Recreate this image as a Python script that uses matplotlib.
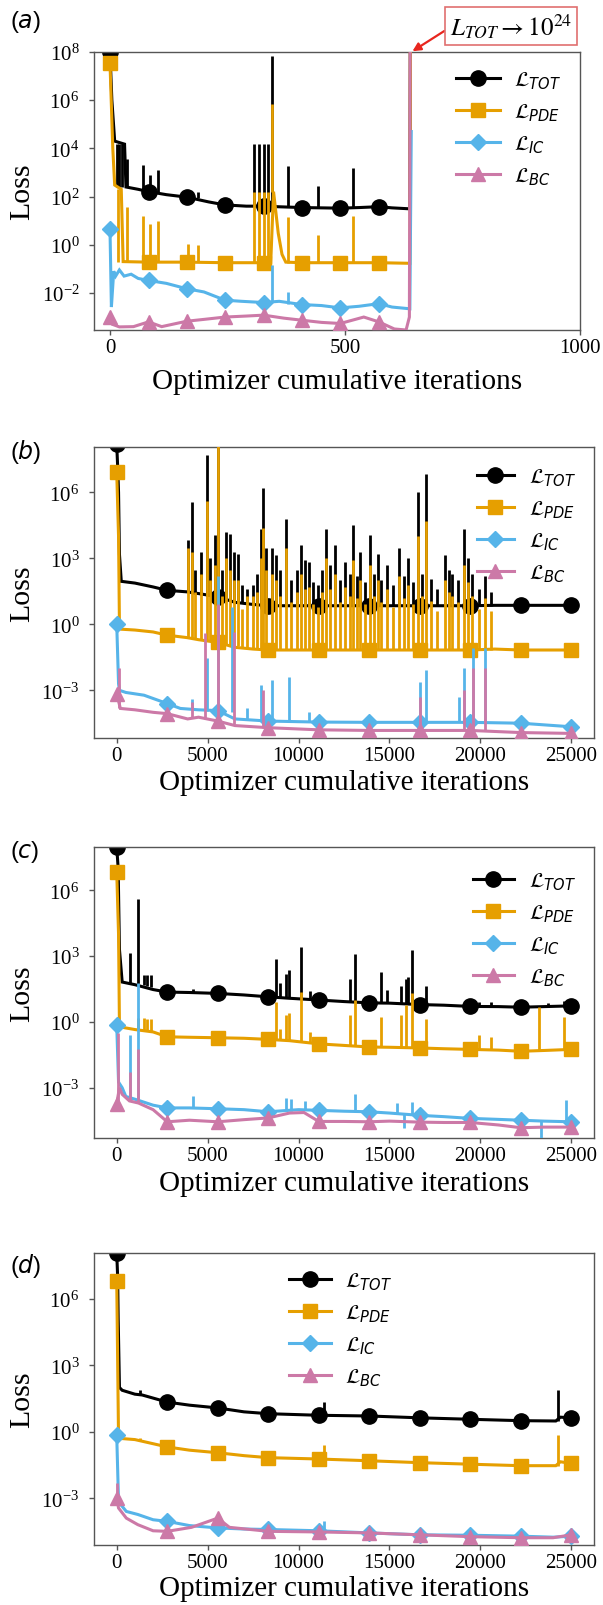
import numpy as np
import matplotlib
matplotlib.use("Agg")
import matplotlib.pyplot as plt
from matplotlib.ticker import NullLocator

plt.rcParams['font.family'] = ['Liberation Serif', 'DejaVu Serif']
plt.rcParams['mathtext.fontset'] = 'dejavusans'

# ---------------- data (x = optimizer cumulative iteration, y = loss) ----------------
SERIES = ['TOT', 'PDE', 'IC', 'BC']
LABELS = [r'$\mathcal{L}_{TOT}$', r'$\mathcal{L}_{PDE}$', r'$\mathcal{L}_{IC}$', r'$\mathcal{L}_{BC}$']

A_MARK_X = [0, 82, 163, 245, 327, 408, 490, 572]
BCD_MARK_X = [0, 2778, 5556, 8333, 11111, 13889, 16667, 19444, 22222, 25000]

# ---- panel (a) ----
A_TOT = [(0, 1.0e8), (4, 1.0e6), (10, 2.0e4), (31, 1.5e4), (34, 2.5e2), (60, 2.0e2), (82, 1.6e2),
         (120, 1.2e2), (163, 95), (210, 60), (245, 45), (290, 40), (327, 40), (355, 38), (408, 35),
         (450, 34), (490, 33), (530, 35), (572, 38), (600, 34), (638, 31), (641, 1e24)]
A_TOT_SPK = [(14, 2.5e2, 1.5e4), (20, 2.5e2, 1.5e4), (26, 2.5e2, 1.5e4), (36, 2.5e2, 3.6e3),
             (70, 2.0e2, 2.0e3), (85, 1.6e2, 8.0e2), (103, 1.5e2, 1.3e3), (188, 85, 1.5e2),
             (306, 40, 1.5e4), (316, 40, 1.5e4), (327, 40, 1.5e4), (337, 40, 1.5e4),
             (345, 40, 6.8e7), (378, 36, 1.9e3), (443, 34, 2.8e2), (516, 34, 1.6e3)]
A_PDE = [(0, 3.6e7), (6, 1.0e4), (10, 3.0e2), (24, 2.0e2), (28, 0.2), (82, 0.19), (163, 0.19),
         (245, 0.18), (300, 0.18), (327, 0.18), (342, 0.18), (348, 1.6e2), (358, 3.0), (366, 0.4),
         (374, 0.19), (408, 0.18), (490, 0.18), (572, 0.18), (638, 0.17), (641, 1e24)]
A_PDE_SPK = [(18, 0.2, 2e2), (36, 0.2, 36), (70, 0.19, 16), (85, 0.19, 7.4), (103, 0.19, 10),
             (165, 0.19, 1.1), (188, 0.19, 1.0), (306, 0.18, 1.6e2), (316, 0.18, 1.6e2),
             (327, 0.18, 1.6e2), (337, 0.18, 1.6e2), (345, 1.6e2, 6.8e5), (378, 0.18, 14),
             (443, 0.18, 2.5), (516, 0.18, 16)]
A_IC = [(0, 4.6), (3, 2.6e-3), (8, 8e-2), (12, 5e-2), (20, 9e-2), (30, 5e-2), (45, 6e-2), (60, 4e-2),
        (82, 3.3e-2), (120, 2.5e-2), (163, 1.5e-2), (200, 1.1e-2), (245, 5e-3), (280, 4.5e-3),
        (327, 4e-3), (360, 4.5e-3), (408, 3.3e-3), (450, 3e-3), (490, 2.4e-3), (530, 2.8e-3),
        (572, 3.6e-3), (600, 2.6e-3), (638, 2.2e-3), (641, 5e4)]
A_IC_SPK = [(345, 4e-3, 0.14), (378, 3.5e-3, 1.1e-2)]
A_BC = [(0, 1.0e-3), (5, 5e-4), (20, 3.9e-4), (50, 4e-4), (82, 6.3e-4), (110, 4e-4), (163, 6.7e-4),
        (200, 8e-4), (245, 1.0e-3), (290, 1.1e-3), (327, 1.2e-3), (370, 9e-4), (408, 7.4e-4),
        (450, 6e-4), (490, 5.4e-4), (540, 1.0e-3), (572, 6.3e-4), (605, 3.2e-4), (630, 2.9e-4),
        (637, 1e-3), (641, 1e24)]
A_BC_SPK = []

# ---- panel (b) ----
B_TOT = [(0, 1.5e8), (60, 1.0e7), (100, 1.0e6), (150, 1.5e3), (250, 90), (1000, 75), (2000, 50),
         (2778, 35), (3850, 30), (4500, 25), (5556, 18), (6500, 10), (7500, 8), (8333, 7),
         (11111, 7), (13889, 7), (16667, 7), (19444, 7), (20800, 7.3), (22222, 7.3), (25000, 7.3)]
B_TOT_SPK = [(3900, 30, 6.6e3), (4115, 28, 3.6e5), (4300, 25, 3e2), (4642, 22, 2e3), (4960, 20, 5e7),
             (5150, 20, 1e3), (5380, 18, 1.1e4), (5590, 16, 1.2e8), (5800, 15, 3e2), (6014, 12, 1.6e4),
             (6225, 12, 1.3e4), (6436, 11, 2e3), (6650, 10, 1.6e3), (6900, 9, 60), (7174, 8, 40),
             (7490, 8, 60), (7700, 8, 2e2), (7913, 7, 2.2e4), (8020, 7, 1.5e6), (8200, 7, 3e3),
             (8546, 7, 2.8e3), (8757, 7, 1.4e3), (9000, 7, 3e2), (9284, 7, 6e4), (9600, 7, 1e2),
             (9917, 7, 3e2), (10128, 7, 4e3), (10340, 7, 8e2), (10550, 7, 7e2), (10800, 7, 80),
             (11077, 7, 60), (11300, 7, 3e2), (11500, 7, 2.2e4), (11750, 7, 5e2), (12027, 7, 4e3),
             (12300, 7, 1e2), (12555, 7, 7e2), (12808, 7, 2e2), (12977, 7, 3.2e4), (13200, 7, 1.5e2),
             (13400, 7, 2e3), (13650, 7, 80), (13926, 7, 1.1e4), (14150, 7, 2e2), (14348, 7, 1.5e3),
             (14560, 7, 1e2), (14876, 7, 5e2), (15200, 7, 60), (15509, 7, 2.8e3), (15800, 7, 1.5e2),
             (16036, 7, 1e3), (16300, 7, 80), (16564, 7, 1e6), (16800, 7, 2e2), (16986, 7, 7e6),
             (17300, 7, 1.2e2), (17600, 7, 40), (18040, 7, 1.4e3), (18250, 7, 3e2), (18463, 7, 2e2),
             (18780, 7, 1e2), (19096, 7, 2.2e4), (19300, 7, 1e3), (19518, 7, 2e2), (19940, 7, 40),
             (20256, 7, 1.5e2), (20573, 7, 30)]
B_PDE = [(0, 8e6), (100, 1e4), (150, 0.8), (250, 0.6), (1000, 0.55), (2000, 0.45), (2778, 0.32),
         (3850, 0.25), (4500, 0.2), (5556, 0.15), (6500, 0.09), (7500, 0.075), (8333, 0.068),
         (11111, 0.068), (13889, 0.068), (16667, 0.068), (19444, 0.068), (20800, 0.075),
         (22222, 0.068), (25000, 0.068)]
B_PDE_SPK = [(3900, 0.25, 3e3), (4115, 0.25, 2e3), (4300, 0.22, 30), (4642, 0.2, 2e2), (4960, 0.2, 4e5),
             (5150, 0.18, 1e2), (5380, 0.17, 5e2), (5590, 0.15, 1.5e8), (5800, 0.14, 20), (6014, 0.12, 1e3),
             (6225, 0.11, 3e2), (6436, 0.1, 1e2), (6650, 0.1, 1e2), (6900, 0.09, 5), (7174, 0.08, 20),
             (7490, 0.08, 20), (7700, 0.08, 30), (7913, 0.07, 1e3), (8020, 0.07, 2.5e4), (8200, 0.07, 3e2),
             (8546, 0.07, 2e2), (8757, 0.07, 1e2), (9000, 0.07, 20), (9284, 0.07, 3e3), (9600, 0.07, 10),
             (9917, 0.07, 30), (10128, 0.07, 2e2), (10340, 0.07, 40), (10550, 0.07, 50), (10800, 0.07, 8),
             (11077, 0.07, 6), (11300, 0.07, 30), (11500, 0.07, 1e3), (11750, 0.07, 40), (12027, 0.07, 2e2),
             (12300, 0.07, 10), (12555, 0.07, 50), (12808, 0.07, 20), (12977, 0.07, 8e2), (13200, 0.07, 15),
             (13400, 0.07, 1e2), (13650, 0.07, 8), (13926, 0.07, 5e2), (14150, 0.07, 20), (14348, 0.07, 1e2),
             (14560, 0.07, 10), (14876, 0.07, 40), (15200, 0.07, 6), (15509, 0.07, 1.5e2), (15800, 0.07, 15),
             (16036, 0.07, 60), (16300, 0.07, 8), (16564, 0.07, 1e4), (16800, 0.07, 20), (16986, 0.07, 5e4),
             (17300, 0.07, 12), (17600, 0.07, 4), (18040, 0.07, 1e2), (18250, 0.07, 30), (18463, 0.07, 20),
             (18780, 0.07, 10), (19096, 0.07, 5e2), (19300, 0.07, 80), (19518, 0.07, 20), (19940, 0.07, 5),
             (20256, 0.07, 15), (20573, 0.07, 4)]
B_IC = [(0, 1.0), (100, 2e-3), (150, 1e-3), (500, 8e-4), (1500, 6e-4), (2778, 2.5e-4), (3500, 1.5e-4),
        (4500, 1.3e-4), (5556, 1.2e-4), (6500, 5e-5), (8333, 4e-5), (11111, 3.6e-5), (13889, 3.5e-5),
        (16667, 3.5e-5), (19444, 3.5e-5), (22222, 3.2e-5), (25000, 2.2e-5)]
B_IC_SPK = [(4115, 1.3e-4, 4e-4), (4960, 1.2e-4, 2.8e-2), (5590, 1.2e-4, 1.6e2), (6330, 1e-4, 6),
            (7174, 5e-5, 1.5e-4), (7913, 4e-5, 1.7e-3), (8546, 4e-5, 3e-3), (9495, 4e-5, 4e-3),
            (10600, 4e-5, 1e-4), (16669, 3.5e-5, 2.5e-3), (17030, 3.5e-5, 8e-3), (18800, 3.5e-5, 5e-4),
            (19096, 3.5e-5, 1e-2), (19620, 3.5e-5, 8e-2), (20256, 3.5e-5, 8e-2)]
B_BC = [(0, 7e-4), (200, 1.5e-4), (1000, 1.3e-4), (2000, 1e-4), (2778, 8.7e-5), (3900, 5e-5),
        (4500, 6e-5), (5556, 4e-5), (6500, 2.5e-5), (8333, 2e-5), (11111, 1.6e-5), (13889, 1.5e-5),
        (16667, 1.5e-5), (19444, 1.5e-5), (22222, 1.2e-5), (25000, 1.1e-5)]
B_BC_SPK = [(100, 1.5e-4, 1e-2), (4115, 6e-5, 3e-4), (4853, 5e-5, 0.4), (5590, 4e-5, 8), (6436, 3e-5, 0.45),
            (8020, 2e-5, 1e-3), (16669, 1.5e-5, 5e-4), (19096, 1.5e-5, 1e-3), (19620, 1.5e-5, 1e-2),
            (20256, 1.5e-5, 1e-2)]

# ---- panel (c) ----
C_TOT = [(0, 9.5e7), (80, 1.0e7), (105, 4.0e5), (150, 2.0e3), (300, 66), (1000, 50), (2000, 30),
         (2778, 23), (4000, 22), (5556, 20), (7000, 17), (8333, 14), (9500, 12), (11111, 10),
         (12500, 8.5), (13889, 7.4), (15000, 7.2), (16667, 6.2), (18000, 5.8), (19444, 5.1),
         (21000, 5.0), (22222, 4.7), (23500, 5.0), (25000, 5.4)]
C_TOT_SPK = [(739, 60, 1.4e3), (1160, 55, 4.2e5), (1477, 50, 1.35e2), (1690, 45, 1.35e2), (1900, 40, 1.35e2),
             (4200, 22, 33), (8757, 14, 7.8e2), (9000, 14, 60), (9284, 13, 1.5e2), (9495, 13, 2.3e2),
             (10128, 12, 2.6e3), (10656, 10, 25), (12808, 8, 95), (13082, 8, 1.3e3), (14560, 7, 1.9e2),
             (14876, 7, 30), (15614, 6.5, 45), (15930, 6.5, 95), (16036, 6.5, 1.1e2), (16247, 6.5, 1.9e3),
             (16986, 6, 45), (19940, 5, 8), (20573, 5, 8), (23700, 4.8, 7), (24580, 5, 9)]
C_PDE = [(0, 7.0e6), (100, 1.0e4), (150, 0.6), (1000, 0.45), (2000, 0.35), (2778, 0.21), (4000, 0.2),
         (5556, 0.19), (7000, 0.18), (8333, 0.16), (9500, 0.14), (11111, 0.10), (12500, 0.085),
         (13889, 0.072), (15000, 0.07), (16667, 0.065), (18000, 0.06), (19444, 0.056), (21000, 0.052),
         (22222, 0.046), (23500, 0.05), (25000, 0.056)]
C_PDE_SPK = [(1160, 0.5, 1.5), (1477, 0.45, 1.5), (1690, 0.42, 1.4), (1900, 0.4, 1.4), (8757, 0.15, 8),
             (9000, 0.15, 0.5), (9284, 0.15, 2), (9495, 0.15, 2.5), (10128, 0.13, 23), (10656, 0.12, 0.35),
             (12808, 0.09, 2), (13082, 0.09, 10), (14560, 0.08, 1.7), (15614, 0.07, 2), (15930, 0.07, 5.7),
             (16247, 0.07, 20), (16986, 0.065, 1.4), (19940, 0.055, 0.25), (20573, 0.055, 0.2),
             (23210, 0.047, 4.8), (24580, 0.05, 1.7)]
C_IC = [(0, 0.7), (100, 1.8e-3), (300, 1.0e-3), (500, 4.0e-4), (1000, 3e-4), (2000, 1.6e-4), (2778, 1.2e-4),
        (4000, 1.2e-4), (5556, 1.1e-4), (7000, 1.0e-4), (8333, 8e-5), (10000, 1.0e-4), (11111, 9.3e-5),
        (12500, 8.5e-5), (13889, 8e-5), (15000, 7e-5), (16667, 5.5e-5), (18000, 4.8e-5), (19444, 4e-5),
        (21000, 3.6e-5), (22222, 3.3e-5), (23500, 3e-5), (25000, 2.8e-5)]
C_IC_SPK = [(739, 3e-4, 0.25), (1160, 3e-4, 60), (4220, 1.3e-4, 4e-4), (9284, 9e-5, 3.5e-4),
            (9600, 9e-5, 3e-4), (10340, 1e-4, 2.5e-4), (13082, 8e-5, 5e-4), (15400, 7e-5, 2e-4),
            (15825, 6.5e-5, 1.5e-5), (16247, 6e-5, 2.2e-4), (23316, 3e-5, 4e-6), (24687, 2.8e-5, 2.7e-4)]
C_BC = [(0, 1.9e-4), (150, 1.0e-3), (300, 5e-4), (700, 2.5e-4), (1200, 2.0e-4), (2000, 1.0e-4),
        (2778, 2.8e-5), (4000, 3.3e-5), (5556, 2.8e-5), (7000, 3.5e-5), (8333, 4.2e-5), (9500, 7e-5),
        (10300, 7.4e-5), (11111, 2.9e-5), (12500, 2.9e-5), (13889, 2.8e-5), (15000, 3.0e-5),
        (16667, 2.7e-5), (18000, 2.6e-5), (19444, 2.6e-5), (21000, 2e-5), (22222, 1.5e-5),
        (23500, 1.6e-5), (25000, 1.6e-5)]
C_BC_SPK = [(50, 1.9e-4, 0.3), (739, 2.5e-4, 5e-3), (1160, 2e-4, 6e-2)]

# ---- panel (d) ----
D_TOT = [(0, 1.2e8), (50, 1.0e7), (80, 1.2e5), (150, 1.0e2), (300, 75), (1000, 50), (1400, 46),
         (2778, 22), (4000, 16), (5556, 12), (7000, 8), (8333, 6.6), (11111, 5.6), (12500, 5.4),
         (13889, 5.2), (16667, 4.3), (19444, 3.7), (22222, 3.2), (24150, 3.1), (24400, 4.6), (25000, 4.3)]
D_TOT_SPK = [(1270, 48, 75), (11394, 5.6, 23), (24265, 3.1, 74)]
D_PDE = [(0, 6.2e6), (100, 0.5), (300, 0.5), (1000, 0.45), (2778, 0.21), (4000, 0.15), (5556, 0.115),
         (7000, 0.085), (8333, 0.069), (11111, 0.06), (13889, 0.05), (16667, 0.041), (19444, 0.035),
         (22222, 0.03), (24150, 0.03), (24400, 0.045), (25000, 0.038)]
D_PDE_SPK = [(1270, 0.45, 0.55), (11394, 0.06, 0.25), (24265, 0.03, 0.7)]
D_IC = [(0, 0.7), (100, 7e-4), (528, 2.6e-4), (1160, 1.9e-4), (2000, 1.1e-4), (2778, 9.3e-5), (4000, 6e-5),
        (5556, 4.7e-5), (7000, 4.2e-5), (8333, 4e-5), (11111, 3.5e-5), (13889, 2.8e-5), (16667, 2.3e-5),
        (19444, 2.2e-5), (22222, 2e-5), (24000, 1.8e-5), (25000, 2e-5)]
D_IC_SPK = [(11394, 3.5e-5, 1e-4)]
D_BC = [(0, 1.0e-3), (100, 3.7e-4), (528, 1.3e-4), (1160, 6.6e-5), (2000, 3.5e-5), (2778, 3.3e-5),
        (4115, 5e-5), (5000, 9e-5), (5556, 1.3e-4), (6200, 5e-5), (8333, 3.3e-5), (11111, 3.1e-5),
        (13889, 2.8e-5), (16667, 2.3e-5), (19444, 1.9e-5), (22222, 1.7e-5), (24000, 1.7e-5), (25000, 2.3e-5)]
D_BC_SPK = [(30, 1.0e-3, 4.9e-3)]

# ---------------- style / layout ----------------
W, H = 603, 1606
COLORS = ['#000000', '#E69F00', '#56B4E9', '#CC79A7']
MARKERS = [('o', 11), ('s', 10), ('D', 8.5), ('^', 10)]
LW = 2.2

PANELS = [
    dict(tag='a', box=(94, 53, 580, 331), data=[(A_TOT, A_TOT_SPK), (A_PDE, A_PDE_SPK), (A_IC, A_IC_SPK), (A_BC, A_BC_SPK)],
         marks=A_MARK_X, xlim=(-34, 1000), xticks=[0, 500, 1000], ylim=(2.9e-4, 1e8),
         yticks=[1e-2, 1e0, 1e2, 1e4, 1e6, 1e8], leg=(0.745, 0.938), hl=2.1, lab_y=22, xl_y=382),
    dict(tag='b', box=(94, 448, 594, 739), data=[(B_TOT, B_TOT_SPK), (B_PDE, B_PDE_SPK), (B_IC, B_IC_SPK), (B_BC, B_BC_SPK)],
         marks=BCD_MARK_X, xlim=(-1250, 26250), xticks=[0, 5000, 10000, 15000, 20000, 25000],
         ylim=(6.8e-6, 1.15e8), yticks=[1e-3, 1e0, 1e3, 1e6], leg=(0.765, 0.935), hl=1.8, lab_y=452, xl_y=783),
    dict(tag='c', box=(94, 848, 594, 1139), data=[(C_TOT, C_TOT_SPK), (C_PDE, C_PDE_SPK), (C_IC, C_IC_SPK), (C_BC, C_BC_SPK)],
         marks=BCD_MARK_X, xlim=(-1250, 26250), xticks=[0, 5000, 10000, 15000, 20000, 25000],
         ylim=(5.1e-6, 9.5e7), yticks=[1e-3, 1e0, 1e3, 1e6], leg=(0.757, 0.92), hl=2.0, lab_y=852, xl_y=1184),
    dict(tag='d', box=(94, 1254, 594, 1546), data=[(D_TOT, D_TOT_SPK), (D_PDE, D_PDE_SPK), (D_IC, D_IC_SPK), (D_BC, D_BC_SPK)],
         marks=BCD_MARK_X, xlim=(-1250, 26250), xticks=[0, 5000, 10000, 15000, 20000, 25000],
         ylim=(8e-6, 1.15e8), yticks=[1e-3, 1e0, 1e3, 1e6], leg=(0.39, 0.94), hl=2.0, lab_y=1266, xl_y=1589),
]

fig = plt.figure(figsize=(W / 100, H / 100), dpi=100)

for p in PANELS:
    l, t, r, b = p['box']
    ax = fig.add_axes([l / W, 1 - b / H, (r - l) / W, (b - t) / H])
    handles = []
    for k, (base, spk) in enumerate(p['data']):
        xs = [q[0] for q in base]
        ys = [q[1] for q in base]
        if spk:
            ax.vlines([s[0] for s in spk], [s[1] for s in spk], [s[2] for s in spk],
                      colors=COLORS[k], linewidth=2.0, zorder=2 + k)
        me = [i for i, x in enumerate(xs) if x in p['marks']]
        ln, = ax.plot(xs, ys, color=COLORS[k], lw=LW, marker=MARKERS[k][0], ms=MARKERS[k][1],
                      markevery=me, zorder=2.5 + k, solid_joinstyle='miter')
        handles.append(ln)
    ax.set_yscale('log')
    ax.set_xlim(*p['xlim'])
    ax.set_ylim(*p['ylim'])
    ax.set_xticks(p['xticks'])
    ax.set_yticks(p['yticks'])
    ax.yaxis.set_minor_locator(NullLocator())
    for s in ax.spines.values():
        s.set_color('#555555')
        s.set_linewidth(1.0)
    ax.tick_params(axis='both', which='major', labelsize=15, length=3.5, width=1.0, color='#555555')
    ax.tick_params(axis='y', pad=7)
    ax.tick_params(axis='x', pad=2.5)
    ax.set_xlabel('Optimizer cumulative iterations', fontsize=21)
    ax.set_ylabel('Loss', fontsize=21.5)
    ax.xaxis.label.set_va('center')
    ax.xaxis.set_label_coords(0.5, -(p['xl_y'] - b) / (b - t))
    ax.yaxis.label.set_va('center')
    ax.yaxis.set_label_coords(-(l - 22) / (r - l), 0.5)
    ax.legend(handles, LABELS, loc='upper left', bbox_to_anchor=p['leg'], frameon=False, fontsize=15,
              handlelength=p['hl'], labelspacing=0.5, handletextpad=0.7, borderpad=0, borderaxespad=0)
    fig.text(10 / W, 1 - p['lab_y'] / H, r'($\mathit{%s}$)' % p['tag'], fontsize=17,
             family=['Liberation Sans', 'DejaVu Sans'], va='center', ha='left')
    if p['tag'] == 'a':
        ax.annotate(r'$L_{TOT}\rightarrow 10^{24}$', xy=(641, 1e8), xycoords='data',
                    xytext=(511 / W, 1 - 27 / H), textcoords='figure fraction',
                    ha='center', va='center', fontsize=18, math_fontfamily='stix',
                    bbox=dict(boxstyle='square,pad=0.2', fc='white', ec='#e07070', lw=1.2),
                    arrowprops=dict(arrowstyle='-|>', color='#e8261f', lw=1.6, mutation_scale=12,
                                    shrinkA=0, shrinkB=1, relpos=(0.0, 0.45)),
                    annotation_clip=False)

fig.savefig('out.png', dpi=100)
